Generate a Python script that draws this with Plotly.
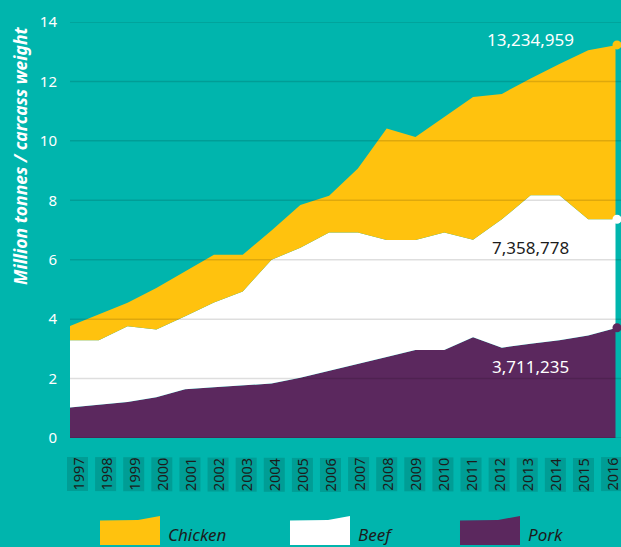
import plotly.graph_objects as go

years = list(range(1997, 2017))
# top edge of each band (million tonnes, cumulative as drawn)
pork = [1.03, 1.12, 1.21, 1.37, 1.64, 1.71, 1.77, 1.83, 2.03, 2.27, 2.5, 2.73, 2.96, 2.96, 3.39, 3.04, 3.17, 3.29, 3.45, 3.71]
beef = [3.29, 3.29, 3.76, 3.65, 4.1, 4.56, 4.93, 6.0, 6.4, 6.92, 6.92, 6.66, 6.66, 6.92, 6.67, 7.36, 8.17, 8.17, 7.36, 7.36]
chicken = [3.77, 4.17, 4.55, 5.05, 5.61, 6.17, 6.17, 6.98, 7.84, 8.15, 9.07, 10.42, 10.13, 10.8, 11.48, 11.58, 12.1, 12.59, 13.05, 13.23]
y_ticks = [0, 2, 4, 6, 8, 10, 12, 14]
series_names = ["Chicken", "Beef", "Pork"]
end_labels = ["13,234,959", "7,358,778", "3,711,235"]

TEAL = "#00B5AD"
YELLOW = "#FFC20E"
WHITE = "#FFFFFF"
PURPLE = "#5B285E"
DARK = "#1c1c1c"
FONT = "Noto Sans"

W, H = 621, 547
L, R, T, B = 70, 0, 22, 109
PW, PH = W - L - R, H - T - B


def px(x):
    return (x - L) / PW


def py(y):
    return (H - B - y) / PH


fig = go.Figure()
fig.add_trace(go.Scatter(x=years, y=pork, mode="lines", line=dict(width=0, color=PURPLE),
                         fill="tozeroy", fillcolor=PURPLE, showlegend=False, hoverinfo="skip"))
fig.add_trace(go.Scatter(x=years, y=beef, mode="lines", line=dict(width=0, color=WHITE),
                         fill="tonexty", fillcolor=WHITE, showlegend=False, hoverinfo="skip"))
fig.add_trace(go.Scatter(x=years, y=chicken, mode="lines", line=dict(width=0, color=YELLOW),
                         fill="tonexty", fillcolor=YELLOW, showlegend=False, hoverinfo="skip"))
# teal vertical marker line at the last year
fig.add_trace(go.Scatter(x=[years[-1], years[-1]], y=[0, chicken[-1]], mode="lines",
                         line=dict(width=3, color=TEAL), showlegend=False, hoverinfo="skip"))
fig.add_trace(go.Scatter(x=[years[-1]] * 3, y=[chicken[-1], beef[-1], pork[-1]], mode="markers",
                         marker=dict(size=9, color=[YELLOW, WHITE, PURPLE]), cliponaxis=False,
                         showlegend=False, hoverinfo="skip"))

shapes = []
for t in y_ticks:
    shapes.append(dict(type="line", xref="paper", yref="y", x0=0, x1=1, y0=t, y1=t,
                       line=dict(color="rgba(0,0,0,0.13)", width=1.5), layer="above"))

# legend
colors = [YELLOW, WHITE, PURPLE]
leg_x = [100, 290, 460]
annotations = []
for name, c, x0 in zip(series_names, colors, leg_x):
    pts = [(x0, 545), (x0, 520.5), (x0 + 38, 520), (x0 + 60, 516), (x0 + 60, 545)]
    path = "M " + " L ".join(f"{px(a):.5f},{py(b):.5f}" for a, b in pts) + " Z"
    shapes.append(dict(type="path", xref="paper", yref="paper", path=path,
                       fillcolor=c, line=dict(width=0), layer="above"))
    annotations.append(dict(xref="paper", yref="paper", x=px(x0 + 66), y=py(534), text=name,
                            showarrow=False, xanchor="left", yanchor="middle",
                            font=dict(family=FONT, size=17, color=DARK, style="italic")))

# year labels
for i, yr in enumerate(years):
    annotations.append(dict(x=yr, xref="x", yref="paper", y=py(457), text=str(yr), textangle=-90,
                            showarrow=False, xanchor="center", yanchor="top",
                            xshift=7 - 0.68 * i,
                            bgcolor="#009D95", borderpad=0,
                            font=dict(family=FONT, size=14.5, color=DARK)))

# end value labels
label_y = [13.4, 6.4, 2.42]
label_c = [WHITE, DARK, WHITE]
for txt, yv, c in zip(end_labels, label_y, label_c):
    annotations.append(dict(x=2013.0, y=yv, xref="x", yref="y", text=txt, showarrow=False,
                            xanchor="center", yanchor="middle",
                            font=dict(family=FONT, size=17, color=c)))

# y axis title
annotations.append(dict(xref="paper", yref="paper", x=px(20), y=py(156),
                        text="Million tonnes / carcass weight", textangle=-90, showarrow=False,
                        xanchor="center", yanchor="middle",
                        font=dict(family=FONT, size=17.5, color=WHITE, weight="bold", style="italic")))

fig.update_layout(
    width=W, height=H,
    margin=dict(l=L, r=R, t=T, b=B, pad=0),
    paper_bgcolor=TEAL, plot_bgcolor=TEAL,
    showlegend=False,
    shapes=shapes, annotations=annotations,
    xaxis=dict(range=[years[0], years[-1] + 4 / 28.79], showgrid=False, zeroline=False,
               showticklabels=False, showline=False, fixedrange=True),
    yaxis=dict(range=[0, 14], tickvals=y_ticks, showgrid=False, zeroline=False, showline=False,
               tickfont=dict(family=FONT, size=15, color=WHITE), ticklabelstandoff=12,
               fixedrange=True),
)

fig.write_html("out.html", config={"displayModeBar": False},
               post_script="document.body.style.margin='0';document.body.style.overflow='hidden';")
